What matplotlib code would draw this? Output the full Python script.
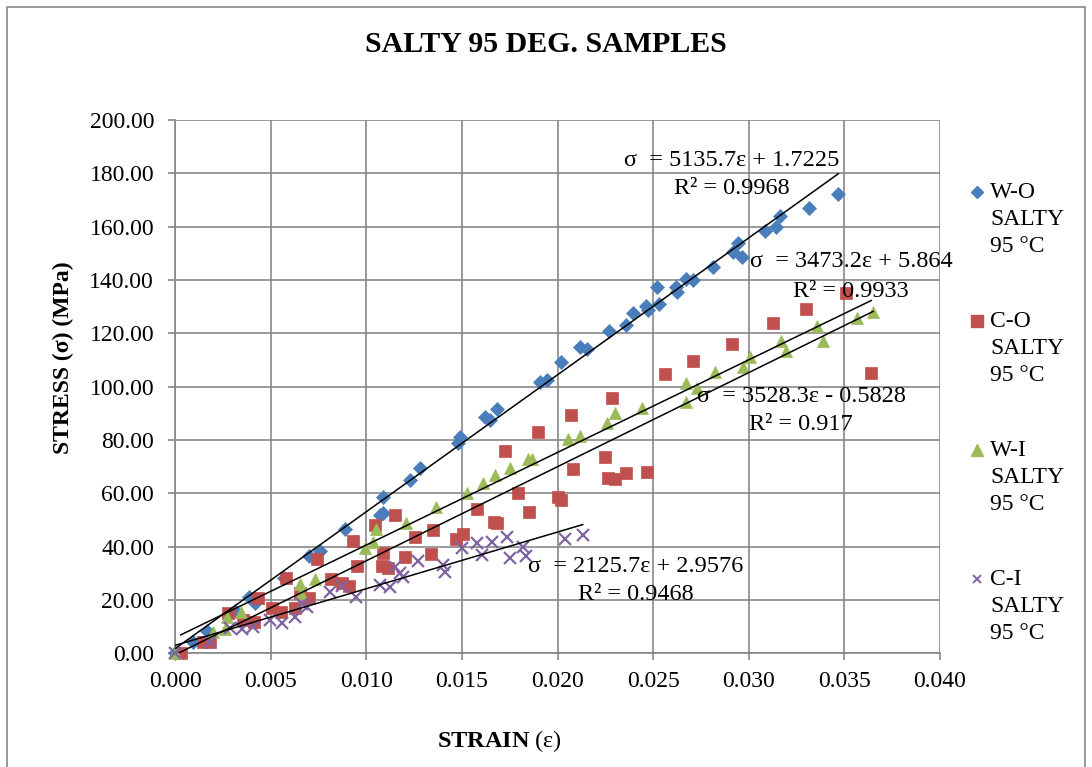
import numpy as np
import matplotlib
matplotlib.use("Agg")
import matplotlib.pyplot as plt
from matplotlib.lines import Line2D
from matplotlib.patches import Rectangle
from matplotlib.ticker import FormatStrFormatter, MultipleLocator

plt.rcParams['font.family'] = ['Liberation Serif', 'DejaVu Serif']
plt.rcParams['mathtext.fontset'] = 'custom'
plt.rcParams['mathtext.rm'] = 'Liberation Serif'
plt.rcParams['mathtext.bf'] = 'Liberation Serif:bold'
plt.rcParams['mathtext.it'] = 'Liberation Serif:italic'

# ---- data ----
wo_strain = [0.0, 0.00096, 0.00166, 0.00314, 0.00389, 0.00418, 0.0057, 0.0070, 0.00758,
             0.00889, 0.01072, 0.01089, 0.01089, 0.01229, 0.01281, 0.01481, 0.0149,
             0.01621, 0.01647, 0.01682, 0.01908, 0.01943, 0.0202, 0.02118, 0.02153,
             0.02271, 0.02358, 0.02397, 0.02463, 0.02475, 0.02522, 0.02533, 0.0262,
             0.02623, 0.02672, 0.0271, 0.02813, 0.02918, 0.02944, 0.02965, 0.03085,
             0.03142, 0.03166, 0.03315, 0.03469]
wo_stress = [0.0, 4.1, 8.5, 15.9, 21.2, 19.0, 28.4, 36.6, 38.5,
             46.5, 51.9, 52.7, 58.7, 65.0, 69.4, 78.8, 81.2,
             88.7, 87.5, 91.5, 101.9, 102.5, 109.3, 115.0, 114.0,
             121.0, 123.0, 127.5, 130.2, 128.7, 137.3, 131.0, 137.5,
             135.6, 140.3, 140.0, 145.0, 150.5, 154.0, 148.5, 158.5,
             159.8, 164.0, 166.9, 172.2]

co_strain = [0.0003, 0.00148, 0.00183, 0.00279, 0.00358, 0.00415, 0.00436, 0.00505,
             0.00554, 0.0058, 0.00627, 0.00654, 0.00702, 0.00744, 0.00816, 0.00871,
             0.00911, 0.00929, 0.0095, 0.01046, 0.0108, 0.01086, 0.01112, 0.0115,
             0.01203, 0.01255, 0.01337, 0.01347, 0.01469, 0.01507, 0.01581, 0.01668,
             0.01685, 0.01725, 0.01795, 0.01853, 0.019, 0.02001, 0.02018, 0.0207,
             0.02083, 0.02248, 0.02266, 0.02283, 0.02301, 0.02358, 0.0247, 0.02562,
             0.0271, 0.0291, 0.03125, 0.03298, 0.03508, 0.0364]
co_stress = [0.3, 4.4, 4.4, 15.2, 12.5, 11.6, 20.6, 17.1,
             15.4, 28.4, 17.1, 22.5, 20.6, 35.3, 27.9, 26.2,
             25.2, 42.1, 32.7, 48.1, 32.7, 37.7, 32.1, 51.9,
             36.0, 43.6, 37.2, 46.2, 42.7, 44.7, 54.1, 49.4,
             49.0, 76.0, 60.2, 53.1, 83.1, 58.7, 57.5, 89.4,
             69.0, 73.7, 65.6, 95.6, 65.4, 67.5, 68.1, 104.7,
             109.7, 115.9, 123.7, 129.0, 135.0, 105.0]

wi_strain = [0.0, 0.002, 0.00261, 0.0027, 0.00345, 0.00654, 0.00659, 0.00732, 0.00993,
             0.01037, 0.0105, 0.01206, 0.01367, 0.01525, 0.01609, 0.01673, 0.01752,
             0.01844, 0.01865, 0.02057, 0.02118, 0.02257, 0.02301, 0.0244, 0.02672,
             0.02672, 0.02728, 0.02824, 0.02972, 0.03007, 0.03169, 0.03195, 0.03355,
             0.03386, 0.03564, 0.03651]
wi_stress = [0.0, 8.1, 9.1, 13.7, 15.4, 25.9, 22.5, 27.8, 39.6,
             41.6, 46.7, 49.0, 54.9, 60.2, 63.8, 66.9, 69.4,
             72.9, 72.9, 80.4, 81.5, 86.3, 90.0, 92.1, 101.3,
             94.4, 99.4, 105.6, 107.3, 111.0, 117.1, 113.2, 122.9,
             117.2, 125.6, 128.1]

ci_strain = [0.0, 0.00183, 0.00288, 0.00349, 0.0041, 0.00497, 0.00558, 0.00627, 0.00662,
             0.00688, 0.0081, 0.00871, 0.00946, 0.01072, 0.01124, 0.0115, 0.01176,
             0.01194, 0.01268, 0.01403, 0.01412, 0.01499, 0.01577, 0.01603, 0.01656,
             0.01734, 0.01752, 0.01821, 0.01835, 0.02039, 0.02132]
ci_stress = [0.0, 4.4, 9.4, 9.1, 10.0, 12.5, 11.2, 13.7, 18.5,
             17.5, 23.1, 25.2, 21.2, 25.6, 25.0, 32.5, 30.0,
             28.5, 34.7, 33.1, 30.6, 39.4, 41.3, 36.9, 41.9,
             43.5, 35.6, 40.0, 36.5, 42.7, 44.4]

series_names = ["W-O\nSALTY\n95 °C", "C-O\nSALTY\n95 °C", "W-I\nSALTY\n95 °C", "C-I\nSALTY\n95 °C"]

# linear trendlines shown on the chart
slopes = [5135.7, 3473.2, 3528.3, 2125.7]
intercepts = [1.7225, 5.864, -0.5828, 2.9576]
r2_values = ["0.9968", "0.9933", "0.917", "0.9468"]

# ---- styling ----
colors = ["#4A7EBB", "#C0504D", "#9BBB59", "#8064A2"]
markers = ["D", "s", "^", "x"]
msizes = [7, 8, 9, 8]
grid_col = "#878787"

W, H = 1092, 767
fig = plt.figure(figsize=(W / 100, H / 100), dpi=100)
fig.patch.set_facecolor("white")

# axes placed in pixel units
x0, x1, y0, y1 = 175, 940, 653.3, 120
ax = fig.add_axes([x0 / W, 1 - y0 / H, (x1 - x0) / W, (y0 - y1) / H])

xs = [wo_strain, co_strain, wi_strain, ci_strain]
ys = [wo_stress, co_stress, wi_stress, ci_stress]

for i in range(4):
    if markers[i] == "x":
        ax.plot(xs[i], ys[i], linestyle="none", marker="x", ms=msizes[i],
                mew=1.6, color=colors[i], zorder=3 + i, clip_on=False)
    else:
        ax.plot(xs[i], ys[i], linestyle="none", marker=markers[i], ms=msizes[i],
                mfc=colors[i], mec=colors[i], mew=0.5, zorder=3 + i, clip_on=False)

# trendlines over each series' range
for i in range(4):
    tx = np.array([min(xs[i]), max(xs[i])])
    ax.plot(tx, slopes[i] * tx + intercepts[i], color="black", lw=1.1, zorder=10)

ax.set_xlim(0, 0.04)
ax.set_ylim(0, 200)
ax.xaxis.set_major_locator(MultipleLocator(0.005))
ax.yaxis.set_major_locator(MultipleLocator(20))
ax.xaxis.set_major_formatter(FormatStrFormatter("%.3f"))
ax.yaxis.set_major_formatter(FormatStrFormatter("%.2f"))
ax.grid(True, color=grid_col, lw=1.2, zorder=0)
ax.set_axisbelow(True)
for side in ["top", "right"]:
    ax.spines[side].set_visible(False)
for side in ["left", "bottom"]:
    ax.spines[side].set_color(grid_col)
    ax.spines[side].set_linewidth(1.2)
ax.tick_params(axis="both", direction="out", length=5, width=1.2, color=grid_col,
               labelsize=17, labelcolor="black")
ax.tick_params(axis="y", pad=10)
ax.tick_params(axis="x", pad=8)

# title and axis titles
fig.text(546 / W, 1 - 45 / H, "SALTY 95 DEG. SAMPLES", ha="center", va="center",
         fontsize=21.5, fontweight="bold")
fig.text(499 / W, 1 - 741 / H, r"$\mathbf{STRAIN}$ (ε)", ha="center", va="center",
         fontsize=17.5)
fig.text(63 / W, 1 - 358 / H, "STRESS (σ) (MPa)", ha="center", va="center",
         rotation=90, fontsize=17, fontweight="bold")

# trendline equations
eq_pos = [(731.5, 160, 188), (851, 262, 291), (801, 397, 425), (636, 567, 595)]
for i, (cx, ya, yb) in enumerate(eq_pos):
    sign = "+" if intercepts[i] >= 0 else "-"
    eq = "σ  = {}ε {} {}".format(slopes[i], sign, abs(intercepts[i]))
    fig.text(cx / W, 1 - ya / H, eq, ha="center", va="center", fontsize=17.5, zorder=20)
    fig.text(cx / W, 1 - yb / H, "R² = " + r2_values[i], ha="center", va="center",
             fontsize=17.5, zorder=20)

# legend on the right
leg_y = [192, 321, 450, 579]
leg_ms = [6, 8, 8, 6]
for i in range(4):
    yy = 1 - leg_y[i] / H
    if markers[i] == "x":
        fig.add_artist(Line2D([977 / W], [yy], marker="x", ms=leg_ms[i], mew=1.4,
                              color=colors[i], linestyle="none"))
    else:
        fig.add_artist(Line2D([977 / W], [yy], marker=markers[i], ms=leg_ms[i],
                              mfc=colors[i], mec=colors[i], linestyle="none"))
    # block centred on its middle line (one line pitch below the marker)
    fig.text(990 / W, 1 - (leg_y[i] + 27.5) / H, series_names[i], ha="left",
             va="center", fontsize=17, linespacing=1.37)

# chart border
fig.add_artist(Rectangle((7 / W, -0.01), (1085 - 7) / W, 1.01 - 7 / H + 0.0,
                         transform=fig.transFigure, fill=False, ec="#868686", lw=1.2))

fig.savefig("out.png", dpi=100, facecolor="white")
